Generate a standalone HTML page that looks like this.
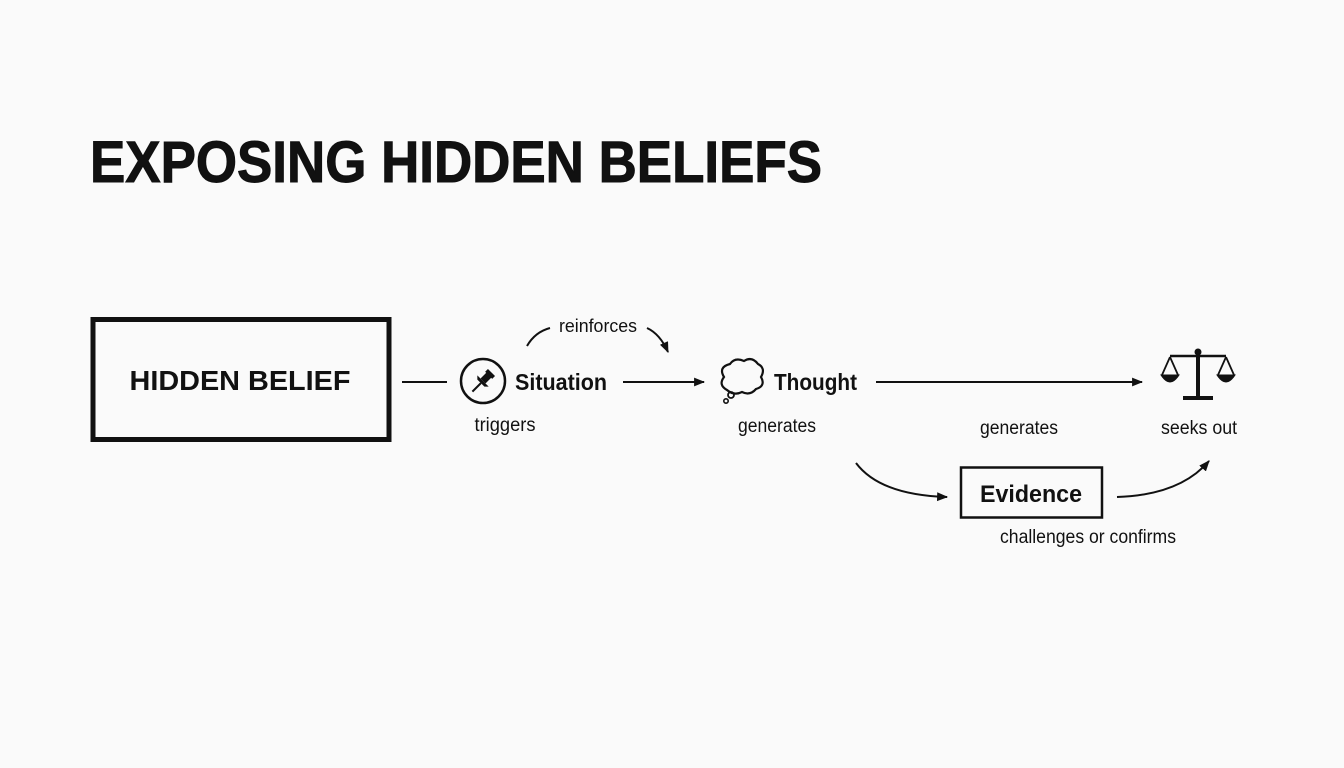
<!DOCTYPE html>
<html><head><meta charset="utf-8"><style>
html,body{margin:0;padding:0;background:#fafafa;}
svg{display:block;font-family:"Liberation Sans",sans-serif;}
</style></head><body>
<svg width="1344" height="768" viewBox="0 0 1344 768" xmlns="http://www.w3.org/2000/svg">
<defs>
<marker id="ah" viewBox="0 0 10 10" refX="9" refY="5" markerWidth="11" markerHeight="11" orient="auto" markerUnits="userSpaceOnUse"><path d="M0,1 L10,5 L0,9 z" fill="#111"/></marker>
</defs>
<rect width="1344" height="768" fill="#fafafa"/>
<text x="90" y="182" font-size="58" font-weight="bold" fill="#111" stroke="#111" stroke-width="1" textLength="732" lengthAdjust="spacingAndGlyphs">EXPOSING HIDDEN BELIEFS</text>

<rect x="93" y="319.5" width="296" height="120" fill="none" stroke="#111" stroke-width="5"/>
<text x="240" y="390" font-size="28" font-weight="bold" text-anchor="middle" fill="#111" textLength="221" lengthAdjust="spacingAndGlyphs">HIDDEN BELIEF</text>

<line x1="402" y1="382" x2="447" y2="382" stroke="#111" stroke-width="2"/>
<circle cx="483" cy="381" r="22" fill="none" stroke="#111" stroke-width="2.5"/>
<g transform="translate(483,381) rotate(45)">
<rect x="-5" y="-12" width="10" height="4" fill="#111"/>
<rect x="-3.5" y="-9" width="7" height="9" fill="#111"/>
<path d="M-8,0 L8,0 L5,3 L-5,3z" fill="#111"/>
<line x1="0" y1="3" x2="0" y2="15" stroke="#111" stroke-width="2"/>
</g>
<text x="515" y="390" font-size="23" font-weight="bold" fill="#111" textLength="92" lengthAdjust="spacingAndGlyphs">Situation</text>
<text x="505" y="431" font-size="19" text-anchor="middle" fill="#111" textLength="61" lengthAdjust="spacingAndGlyphs">triggers</text>

<path d="M527,346 Q535,332 550,328" fill="none" stroke="#111" stroke-width="2"/>
<text x="598" y="332" font-size="18" text-anchor="middle" fill="#111" textLength="78" lengthAdjust="spacingAndGlyphs">reinforces</text>
<path d="M647,328 Q660,334 668,352" fill="none" stroke="#111" stroke-width="2" marker-end="url(#ah)"/>

<line x1="623" y1="382" x2="704" y2="382" stroke="#111" stroke-width="2" marker-end="url(#ah)"/>

<path d="M727,390 Q718,385 724,377 Q718,367 730,364 Q735,357 744,361 Q752,356 758,364 Q766,368 761,377 Q766,386 756,389 Q750,396 742,392 Q734,396 727,390z" fill="none" stroke="#111" stroke-width="2.2"/>
<circle cx="731" cy="395" r="3" fill="none" stroke="#111" stroke-width="1.8"/>
<circle cx="726" cy="401" r="2.2" fill="none" stroke="#111" stroke-width="1.6"/>
<text x="774" y="390" font-size="23" font-weight="bold" fill="#111" textLength="83" lengthAdjust="spacingAndGlyphs">Thought</text>
<text x="777" y="432" font-size="19" text-anchor="middle" fill="#111" textLength="78" lengthAdjust="spacingAndGlyphs">generates</text>

<line x1="876" y1="382" x2="1142" y2="382" stroke="#111" stroke-width="2" marker-end="url(#ah)"/>
<text x="1019" y="434" font-size="19" text-anchor="middle" fill="#111" textLength="78" lengthAdjust="spacingAndGlyphs">generates</text>

<g fill="#111" stroke="#111">
<line x1="1198" y1="352" x2="1198" y2="397" stroke-width="4"/>
<circle cx="1198" cy="352" r="3"/>
<line x1="1170" y1="356" x2="1226" y2="356" stroke-width="2.5"/>
<line x1="1183" y1="398" x2="1213" y2="398" stroke-width="4"/>
<path d="M1170,357 L1162,375 M1170,357 L1178,375" fill="none" stroke-width="1.8"/>
<path d="M1161,375 L1179,375 Q1170,389 1161,375z" stroke-width="1"/>
<path d="M1226,357 L1218,375 M1226,357 L1234,375" fill="none" stroke-width="1.8"/>
<path d="M1217,375 L1235,375 Q1226,389 1217,375z" stroke-width="1"/>
</g>
<text x="1199" y="434" font-size="19" text-anchor="middle" fill="#111" textLength="76" lengthAdjust="spacingAndGlyphs">seeks out</text>

<path d="M856,463 Q880,495 947,497" fill="none" stroke="#111" stroke-width="2" marker-end="url(#ah)"/>
<rect x="961" y="467.5" width="141" height="50" fill="none" stroke="#111" stroke-width="2.5"/>
<text x="1031" y="502" font-size="24" font-weight="bold" text-anchor="middle" fill="#111" textLength="102" lengthAdjust="spacingAndGlyphs">Evidence</text>
<path d="M1117,497 Q1180,495 1209,461" fill="none" stroke="#111" stroke-width="2" marker-end="url(#ah)"/>
<text x="1088" y="543" font-size="19" text-anchor="middle" fill="#111" textLength="176" lengthAdjust="spacingAndGlyphs">challenges or confirms</text>
</svg>
</body></html>
